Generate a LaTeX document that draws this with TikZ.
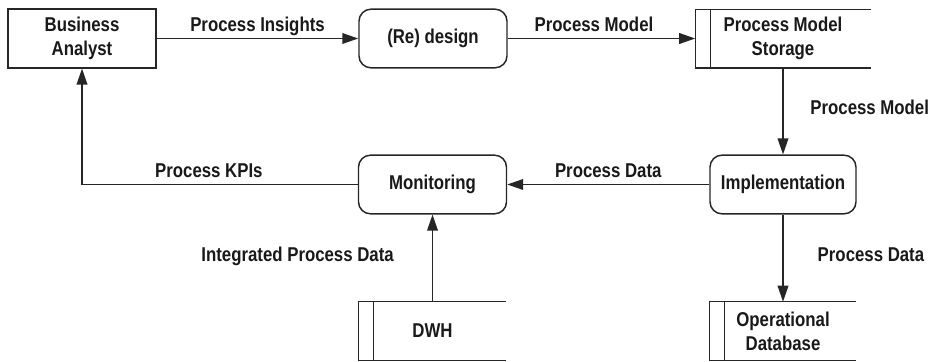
\documentclass[tikz,border=0pt]{standalone}
\usepackage{fontspec}
\setmainfont{Liberation Sans}[FakeStretch=0.84]
\usetikzlibrary{arrows.meta}

\tikzset{
	line/.style={draw=black!85, line width=1.1pt},
	flow/.style={line, -{Triangle[length=12pt,width=8pt]}},
	txt/.style={font=\fontsize{15}{18}\selectfont\bfseries, text=black!90},
	lbl/.style={txt, inner sep=3pt, text height=0.72em, text depth=0.2em},
	actor/.style={line, txt, align=center, minimum width=111pt, minimum height=44pt},
	proc/.style={actor, rounded corners=9pt},
	store/.style={txt, align=center, minimum height=43.5pt, inner sep=0pt}
}

\begin{document}
\begin{tikzpicture}[x=0.75pt,y=-0.75pt]
		\useasboundingbox (0,0) rectangle (931,361);
		% top row
		\node[actor] (ba) at (82,38.5) {Business\\Analyst};
		\node[proc] (dsg) at (433,38.5) {(Re) design};
		\node[store, minimum width=131.25pt] (pms) at (783,38.5) {Process Model\\Storage};
		% middle row
		\node[proc, minimum width=109.5pt] (impl) at (783,184.5) {Implementation};
		\node[proc] (mon) at (432.5,184.5) {Monitoring};
		% bottom row
		\node[store, minimum width=110.25pt] (dwh) at (432.5,331) {DWH};
		\node[store, minimum width=109.5pt] (odb) at (783,331) {Operational\\Database};
		% open data stores
		\foreach \s in {pms,dwh,odb}{
			\draw[line] (\s.north east) -- (\s.north west) -- (\s.south west) -- (\s.south east);
			\draw[line] ([xshift=11.25pt]\s.north west) -- ([xshift=11.25pt]\s.south west);
		}
		% flows
		\draw[flow] (ba) -- node[lbl, above]{Process Insights} (dsg);
		\draw[flow] (dsg) -- node[lbl, above, pos=0.46]{Process Model} (pms);
		\draw[flow] (pms) -- node[lbl, right=17pt]{Process Model} (impl);
		\draw[flow] (impl) -- node[lbl, above]{Process Data} (mon);
		\draw[flow] (mon) -| node[lbl, above, pos=0.27]{Process KPIs} (ba);
		\draw[flow] (dwh) -- node[lbl, left=25.5pt]{Integrated Process Data} (mon);
		\draw[flow] (impl) -- node[lbl, right=22.5pt]{Process Data} (odb);
\end{tikzpicture}
\end{document}
